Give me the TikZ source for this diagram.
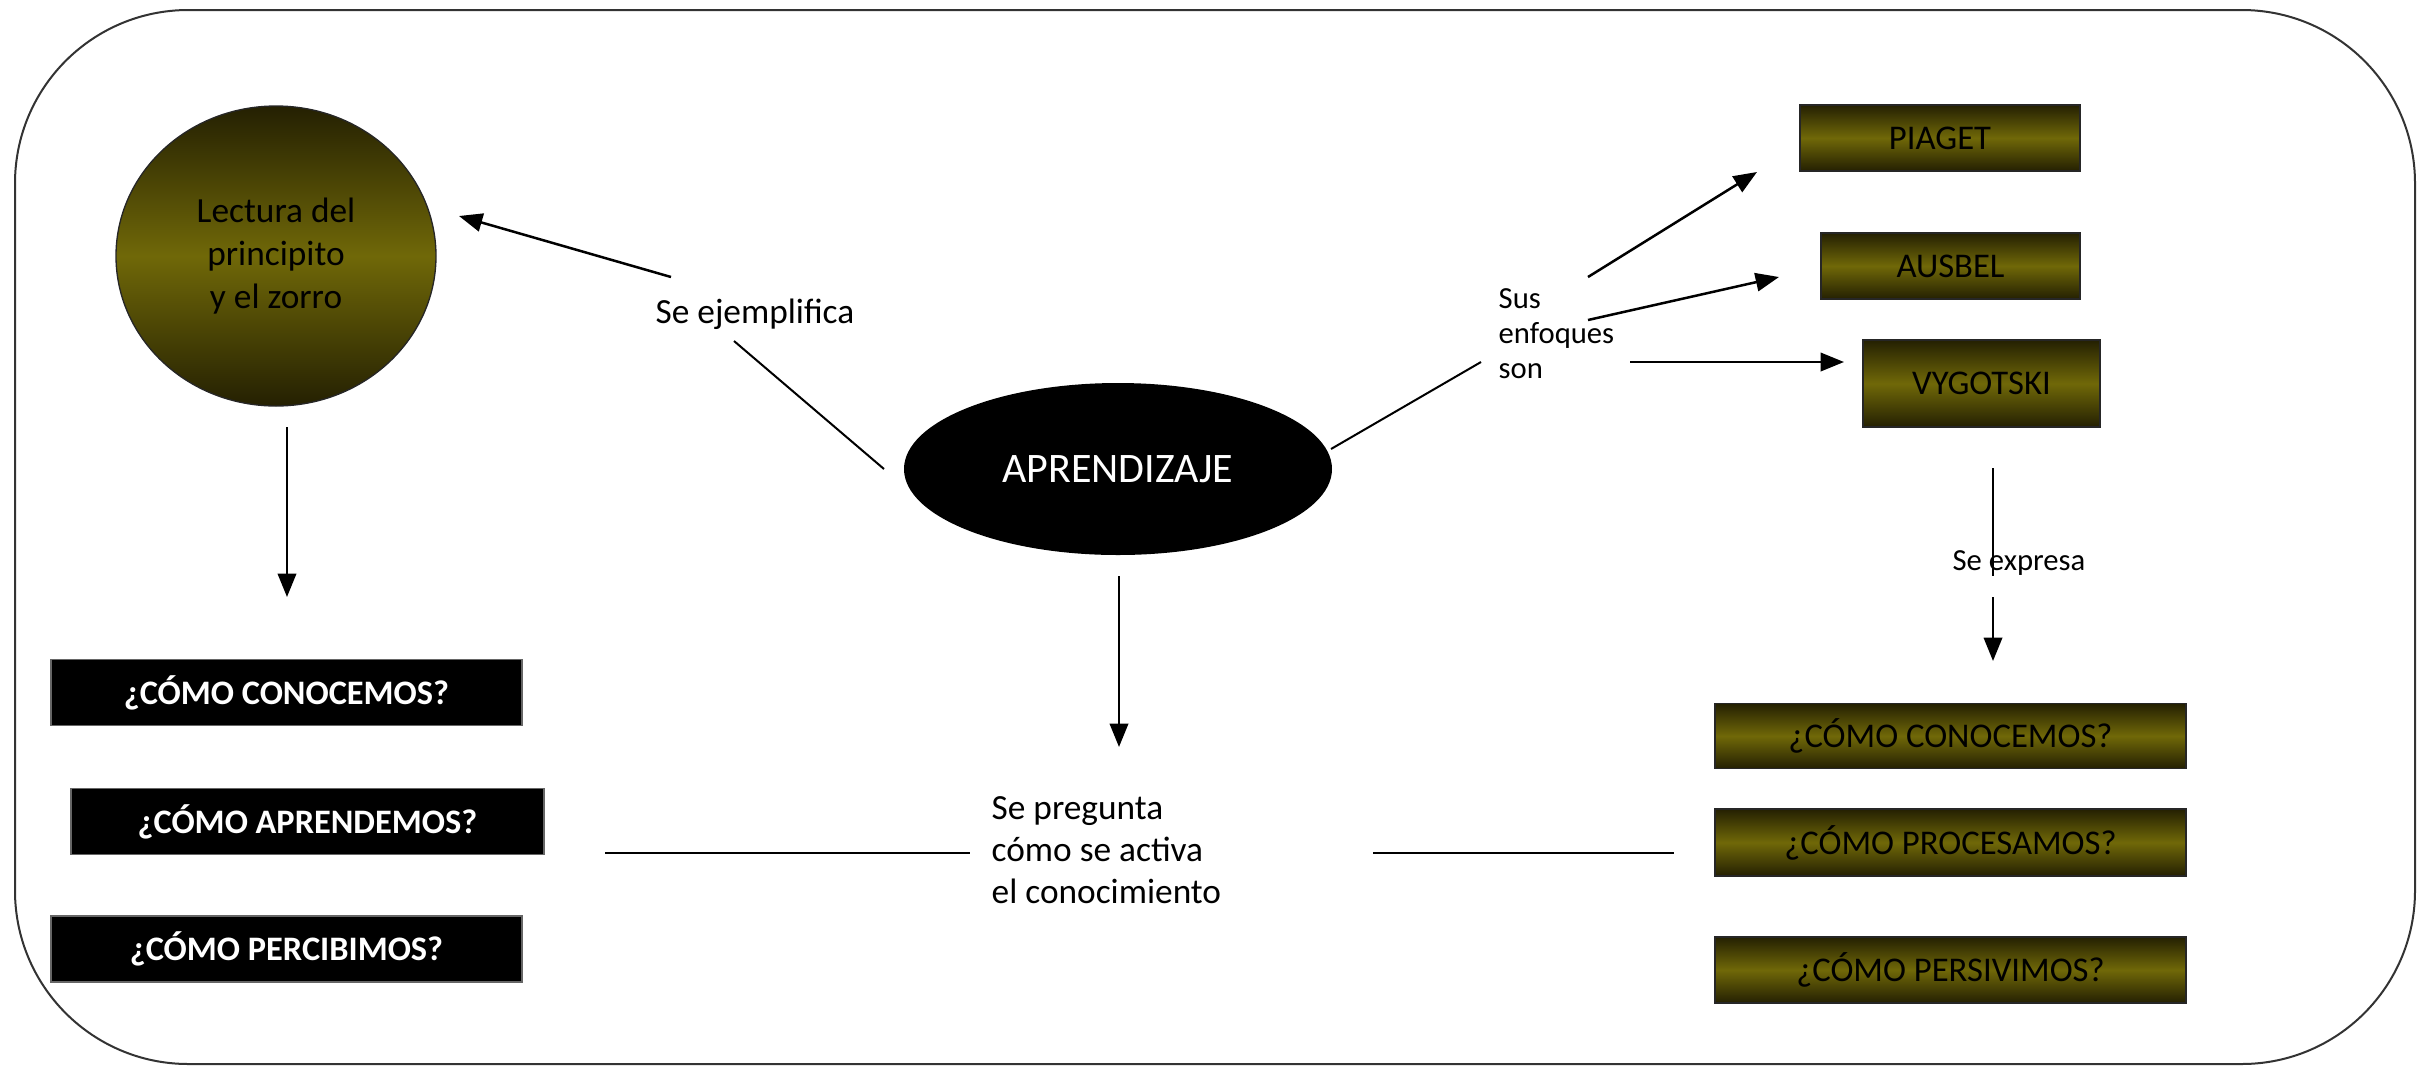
\documentclass[tikz,border=0pt]{standalone}
\usepackage{fontspec}
\setmainfont{Carlito}
\usetikzlibrary{arrows.meta,shapes.geometric}
\definecolor{olivedark}{RGB}{36,32,2}
\definecolor{olivemid}{RGB}{112,104,8}
\begin{document}
\begin{tikzpicture}[x=0.3pt,y=-0.3pt,
  conn/.style={line width=0.75pt,black},
  arr/.style={conn,-{Triangle[length=7pt,width=5.5pt]}},
  olivebox/.style={draw=black!85,line width=0.4pt,top color=olivedark,bottom color=olivedark,middle color=olivemid,inner sep=0pt,font=\fontsize{10.4}{12.5}\selectfont,text=black},
  blackbox/.style={fill=black,draw=black!60,line width=0.4pt,inner sep=0pt,minimum width=141.3pt,minimum height=19.8pt,text=white,font=\bfseries\fontsize{10.3}{12.4}\selectfont},
  lbl/.style={inner sep=0pt,font=\fontsize{10.6}{12.6}\selectfont,align=left},
  smalllbl/.style={inner sep=0pt,font=\fontsize{9.2}{10.5}\selectfont,align=left}]

\useasboundingbox (0,0) rectangle (2425,1066);
\draw[line width=0.6pt,black!80,rounded corners=52pt] (15,10) rectangle (2415,1064);

% main nodes
\node[ellipse,olivebox,minimum width=96pt,minimum height=90pt,align=center,font=\fontsize{10.6}{12.9}\selectfont] (lect) at (276,256) {Lectura del\\principito\\y el zorro};
\node[ellipse,fill=black,inner sep=0pt,minimum width=128.4pt,minimum height=51.6pt,text=white,font=\fontsize{12.6}{15}\selectfont] (apr) at (1118,469) {APRENDIZAJE};

% left black boxes
\node[blackbox] (lb1) at (286.5,692.5) {¿CÓMO CONOCEMOS?};
\node[blackbox,minimum width=141.9pt] (lb2) at (307.5,821.5) {¿CÓMO APRENDEMOS?};
\node[blackbox] (lb3) at (286.5,949) {¿CÓMO PERCIBIMOS?};

% right authors
\node[olivebox,minimum width=84pt,minimum height=19.8pt] (piaget) at (1940,138) {PIAGET};
\node[olivebox,minimum width=77.7pt,minimum height=19.8pt] (ausbel) at (1950.5,266) {AUSBEL};
\node[olivebox,minimum width=71.1pt,minimum height=26.1pt] (vyg) at (1981.5,383.5) {VYGOTSKI};

% right olive boxes
\node[olivebox,minimum width=141.3pt,minimum height=19.5pt] (rb1) at (1950.5,736) {¿CÓMO CONOCEMOS?};
\node[olivebox,minimum width=141.3pt,minimum height=20.1pt] (rb2) at (1950.5,842.5) {¿CÓMO PROCESAMOS?};
\node[olivebox,minimum width=141.3pt,minimum height=19.8pt] (rb3) at (1950.5,970) {¿CÓMO PERSIVIMOS?};

% labels
\node[lbl] (ej) at (755,314) {Se ejemplifica};
\node[lbl,anchor=west] (preg) at (991,850) {Se pregunta\\cómo se activa\\el conocimiento};
\node[smalllbl,anchor=west] (enf) at (1498,334) {Sus\\enfoques\\son};
\node[smalllbl] (expr) at (2019,563) {Se expresa};

% connector coordinates
\coordinate (ejA) at (671,277);  \coordinate (ejB) at (459,216);
\coordinate (ejC) at (734,341);  \coordinate (ejD) at (884,469);
\coordinate (lcA) at (287,427);  \coordinate (lcB) at (287,597);
\coordinate (apA) at (1119,576); \coordinate (apB) at (1119,747);
\coordinate (hlA) at (605,853);  \coordinate (hlB) at (970,853);
\coordinate (hrA) at (1373,853); \coordinate (hrB) at (1674,853);
\coordinate (erA) at (1331,449); \coordinate (erB) at (1481,362);
\coordinate (a1A) at (1588,277); \coordinate (a1B) at (1757,172);
\coordinate (a2A) at (1588,320); \coordinate (a2B) at (1779,277);
\coordinate (a3A) at (1630,362); \coordinate (a3B) at (1844,362);
\coordinate (exA) at (1993,468); \coordinate (exB) at (1993,576);
\coordinate (exC) at (1993,597); \coordinate (exD) at (1993,661);

% connectors
\draw[arr] (ejA) -- (ejB);
\draw[conn,line width=0.6pt] (ejC) -- (ejD);
\draw[arr] (lcA) -- (lcB);
\draw[arr] (apA) -- (apB);
\draw[conn] (hlA) -- (hlB);
\draw[conn] (hrA) -- (hrB);
\draw[conn,line width=0.6pt] (erA) -- (erB);
\draw[arr] (a1A) -- (a1B);
\draw[arr] (a2A) -- (a2B);
\draw[arr] (a3A) -- (a3B);
\draw[conn,line width=0.6pt] (exA) -- (exB);
\draw[arr] (exC) -- (exD);
\end{tikzpicture}
\end{document}
